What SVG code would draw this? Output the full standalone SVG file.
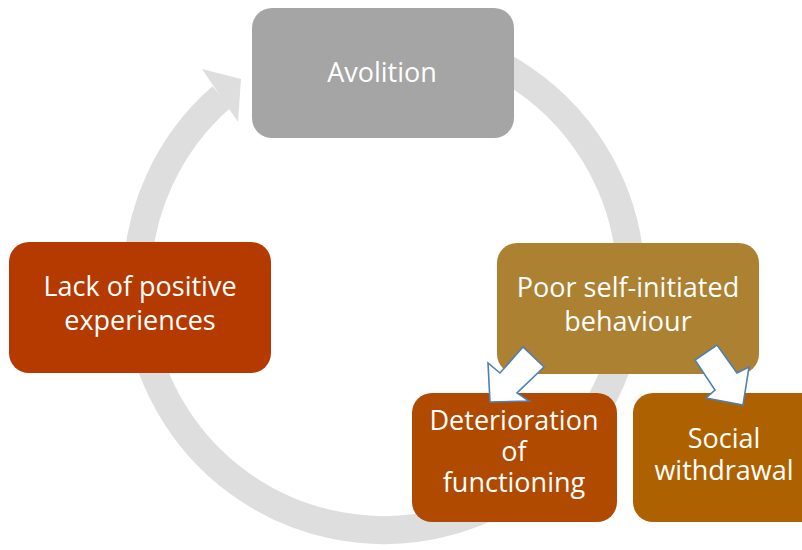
<svg xmlns="http://www.w3.org/2000/svg" width="802" height="550" viewBox="0 0 802 550">
  <style>
    .box { stroke: none; }
    .label { font-family: "Open Sans", "Noto Sans", "Liberation Sans", sans-serif; font-size: 27px; fill: #ffffff; text-anchor: middle; }
    .ring { fill: none; stroke: #dedede; stroke-width: 28; }
    .ring-head { fill: #dedede; stroke: none; }
    .block-arrow { fill: #ffffff; stroke: #4f7fb3; stroke-width: 1.6; stroke-linejoin: miter; }
  </style>

  <!-- cycle ring with arrowhead returning to the top node -->
  <g id="connectors">
    <path class="ring" d="M 426.9 39.8 A 247 247 0 1 1 221.6 96.9"/>
    <polygon class="ring-head" points="202,69 241,79 238,122"/>
  </g>

  <g id="avolition">
    <rect class="box" x="252" y="8" width="262" height="130" rx="20" fill="#a5a5a5"/>
    <text class="label" x="382" y="82">Avolition</text>
  </g>

  <g id="lack-of-positive-experiences">
    <rect class="box" x="9" y="242" width="262" height="131" rx="20" fill="#b43a00"/>
    <text class="label" x="140" y="296">Lack of positive</text>
    <text class="label" x="140" y="330">experiences</text>
  </g>

  <g id="poor-self-initiated-behaviour">
    <rect class="box" x="497" y="243" width="262" height="131" rx="20" fill="#ad8132"/>
    <text class="label" x="628" y="297">Poor self-initiated</text>
    <text class="label" x="628" y="331">behaviour</text>
  </g>

  <g id="deterioration-of-functioning">
    <rect class="box" x="412" y="393" width="205" height="129" rx="20" fill="#b04a00"/>
    <text class="label" x="514" y="430">Deterioration</text>
    <text class="label" x="514" y="461">of</text>
    <text class="label" x="514" y="492">functioning</text>
  </g>

  <g id="social-withdrawal">
    <rect class="box" x="633" y="393" width="205" height="129" rx="20" fill="#ae6100"/>
    <text class="label" x="724" y="448">Social</text>
    <text class="label" x="724" y="480">withdrawal</text>
  </g>

  <!-- block arrows branching from the behaviour node -->
  <g id="branch-arrows">
    <polygon class="block-arrow" points="490,402 488,363 500,373 523,347 544,367 517,393 529,401"/>
    <polygon class="block-arrow" points="695,360 717,345 737,373 749,367 743,405 706,398 715,390"/>
  </g>
</svg>
